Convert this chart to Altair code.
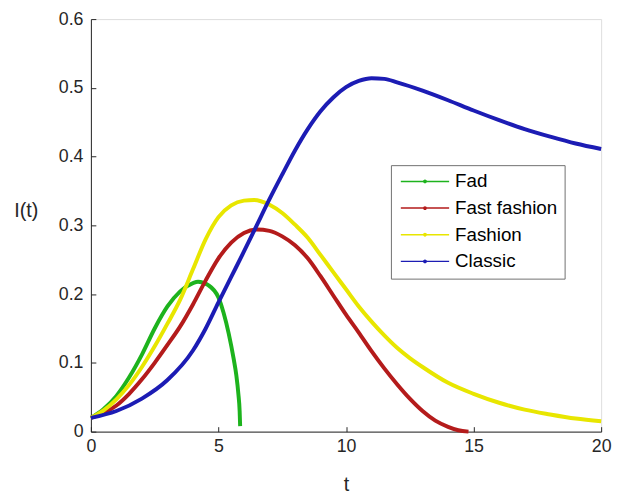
import altair as alt
import pandas as pd

series_names = ["Fad", "Fast fashion", "Fashion", "Classic"]
series_colors = ["#1db31d", "#b41b1b", "#e8e600", "#1c1cb4"]

fad_t = [0, 0.5, 1.0, 1.5, 2.0, 2.5, 3.0, 3.5, 4.0, 4.2, 4.6, 5.0, 5.2, 5.4, 5.6, 5.7, 5.78, 5.83, 5.85]
fad_i = [0.020, 0.033, 0.052, 0.079, 0.112, 0.150, 0.182, 0.204, 0.216, 0.218, 0.213, 0.195, 0.173,
         0.143, 0.105, 0.082, 0.055, 0.030, 0.008]

fast_t = [0, 0.5, 1.0, 1.5, 2.0, 2.5, 3.0, 3.5, 4.0, 4.5, 5.0, 5.5, 6.0, 6.5, 7.0, 7.5, 8.0, 8.5,
          9.0, 9.5, 10.0, 10.5, 11.0, 11.5, 12.0, 12.5, 13.0, 13.5, 14.0, 14.4, 14.8]
fast_i = [0.020, 0.027, 0.038, 0.055, 0.076, 0.100, 0.126, 0.153, 0.185, 0.220, 0.252, 0.275, 0.289,
          0.294, 0.292, 0.284, 0.271, 0.252, 0.226, 0.198, 0.170, 0.144, 0.117, 0.092, 0.069, 0.048,
          0.030, 0.016, 0.007, 0.002, 0.000]

fashion_t = [0, 0.5, 1.0, 1.5, 2.0, 2.5, 3.0, 3.5, 4.0, 4.5, 5.0, 5.5, 6.0, 6.4, 7.0, 7.5, 8.0, 8.5,
             9.0, 9.5, 10.0, 10.5, 11.0, 11.5, 12.0, 12.5, 13.0, 14.0, 15.0, 16.0, 17.0, 18.0, 19.0, 20.0]
fashion_i = [0.020, 0.031, 0.047, 0.068, 0.094, 0.124, 0.157, 0.192, 0.236, 0.280, 0.312, 0.329, 0.336,
             0.337, 0.330, 0.318, 0.301, 0.282, 0.257, 0.232, 0.207, 0.182, 0.160, 0.140, 0.122, 0.107,
             0.094, 0.071, 0.055, 0.042, 0.032, 0.025, 0.019, 0.015]

classic_t = [0, 1, 2, 3, 4, 4.5, 5, 5.5, 6, 6.5, 7, 7.5, 8, 8.5, 9, 9.5, 10, 10.5, 11, 11.5, 12,
             13, 14, 15, 16, 17, 18, 19, 20]
classic_i = [0.020, 0.030, 0.048, 0.075, 0.118, 0.150, 0.188, 0.225, 0.262, 0.300, 0.338, 0.374, 0.409,
             0.440, 0.466, 0.486, 0.501, 0.510, 0.514, 0.513, 0.508, 0.496, 0.482, 0.467, 0.453, 0.440,
             0.429, 0.419, 0.411]

x_ticks = [0, 5, 10, 15, 20]
y_ticks = [0, 0.1, 0.2, 0.3, 0.4, 0.5, 0.6]

rows = []
for name, ts, vs in zip(series_names, [fad_t, fast_t, fashion_t, classic_t],
                        [fad_i, fast_i, fashion_i, classic_i]):
    for k, (t, v) in enumerate(zip(ts, vs)):
        rows.append({"series": name, "t": t, "I": v, "k": k})
df = pd.DataFrame(rows)

W, H = 517, 418
TOP = 8
FONT = "Liberation Sans"
AX = "#262626"

x_scale = alt.Scale(domain=[0, 20], nice=False, zero=False)
y_scale = alt.Scale(domain=[0, 0.6], nice=False)
color_scale = alt.Scale(domain=series_names, range=series_colors)

legend = alt.Legend(
    title=None, orient="none", legendX=304, legendY=166 - 10 - TOP,
    fillColor="white", strokeColor="#707070", padding=7, cornerRadius=0,
    labelFont=FONT, labelFontSize=19, labelColor="#000000", labelOffset=21,
    symbolType="M-4.08,0L4.08,0M0.2,0A0.2,0.2,0,1,1,-0.2,0A0.2,0.2,0,1,1,0.2,0",
    symbolSize=144, symbolOffset=18, symbolStrokeWidth=1.5, rowPadding=7,
)

main = alt.Chart(df).mark_line(strokeWidth=4, interpolate="monotone").encode(
    x=alt.X("t:Q", scale=x_scale, axis=alt.Axis(
        values=x_ticks, ticks=False, tickSize=0, grid=False, domainColor=AX,
        labelColor=AX, labelFont=FONT, labelFontSize=18, labelPadding=6, labelFlush=False,
        title="t", titleFont=FONT, titleFontSize=20, titleFontWeight="normal",
        titleColor=AX, titleBaseline="alphabetic", titleY=60)),
    y=alt.Y("I:Q", scale=y_scale, axis=alt.Axis(
        values=y_ticks, ticks=False, tickSize=0, grid=False, domainColor=AX,
        labelColor=AX, labelFont=FONT, labelFontSize=18, labelPadding=8, format="~f",
        labelFlush=False,
        title="I(t)", titleFont=FONT, titleFontSize=20, titleFontWeight="normal",
        titleColor=AX, titleAngle=0, titleAlign="center", titleBaseline="middle",
        titleX=-66, titleY=210 - 8 - TOP)),
    color=alt.Color("series:N", scale=color_scale, legend=legend),
    order="k:Q",
)

ticks_layer = alt.Chart(df).mark_line(strokeOpacity=0).encode(
    x=alt.X("t:Q", scale=x_scale, axis=alt.Axis(
        orient="top", offset=-H, values=x_ticks, labels=False, domain=False,
        ticks=True, tickSize=5, tickColor=AX, grid=False, title=None)),
    y=alt.Y("I:Q", scale=y_scale, axis=alt.Axis(
        orient="right", offset=-W, values=y_ticks, labels=False, domain=False,
        ticks=True, tickSize=5, tickColor=AX, grid=False, title=None)),
    detail="series:N",
    order="k:Q",
)

chart = alt.layer(main, ticks_layer).resolve_axis(
    x="independent", y="independent"
).properties(
    width=W, height=H,
    autosize=alt.AutoSizeParams(type="none"),
    padding={"left": 84, "top": TOP, "right": 11, "bottom": 62},
).configure_view(stroke=None).configure(background="white")

chart.save("out.html", embed_options={"renderer": "svg", "actions": False})
